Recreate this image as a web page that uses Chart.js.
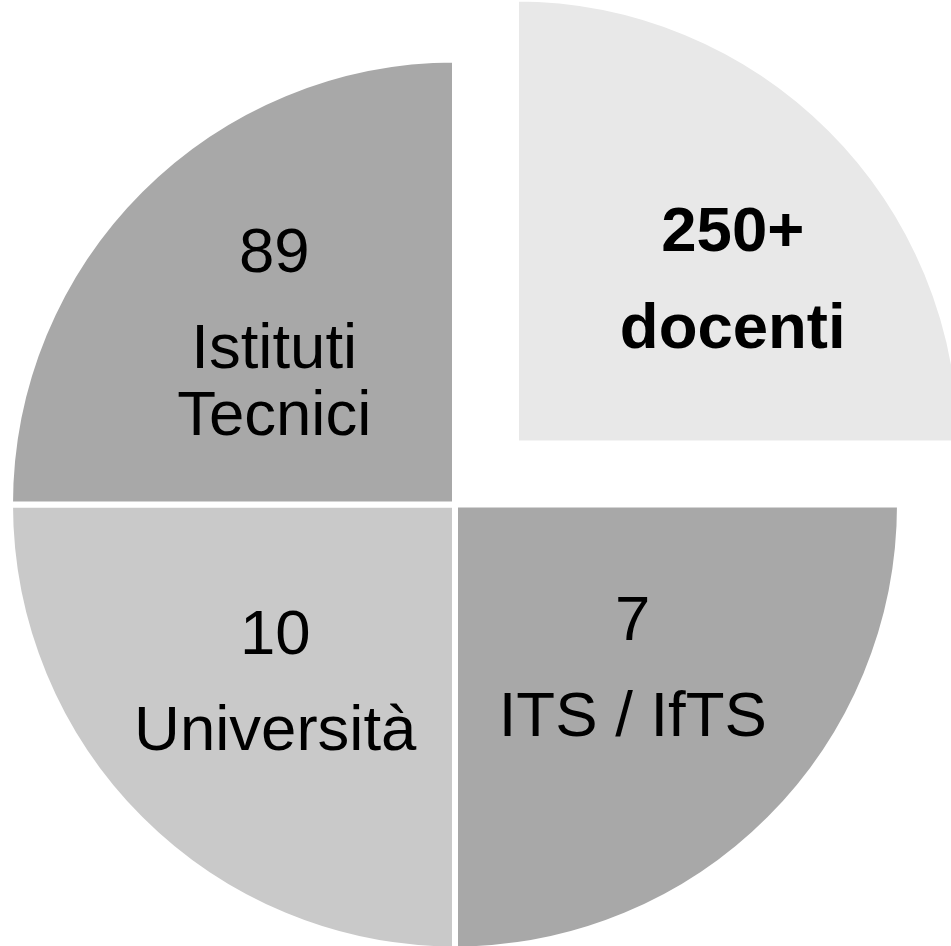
<!DOCTYPE html>
<html>
<head>
<meta charset="utf-8">
<script src="https://cdn.jsdelivr.net/npm/chart.js@4.4.1/dist/chart.umd.min.js"></script>
<style>html,body{margin:0;padding:0;background:#fff;overflow:hidden}canvas{display:block}</style>
</head>
<body>
<canvas id="c" width="951" height="946"></canvas>
<script>
// ---- data ----
const categories = [['docenti'], ['ITS / IfTS'], ['Università'], ['Istituti', 'Tecnici']];
const counts = ['250+', '7', '10', '89'];
const sliceShares = [25, 25, 25, 25];

// ---- styles ----
const sliceColors = ['#e8e8e8', '#a8a8a8', '#c9c9c9', '#a8a8a8'];
const sliceOffsets = [345, 0, 0, 0];

const sliceLabels = {
  id: 'sliceLabels',
  afterDatasetsDraw(chart, args, opts) {
    const ctx = chart.ctx;
    const meta = chart.getDatasetMeta(0);
    meta.data.forEach((arc, i) => {
      const p = arc.getProps(['x', 'y', 'startAngle', 'endAngle', 'outerRadius'], true);
      const mid = (p.startAngle + p.endAngle) / 2;
      const shift = (arc.options.offset || 0) / 4;
      const d = shift + p.outerRadius * opts.radiusFraction;
      const cx = p.x + Math.cos(mid) * d + opts.nudgeX[i];
      const cy = p.y + Math.sin(mid) * d + opts.nudgeY[i];
      const lines = [counts[i]].concat(categories[i]);
      const H = opts.capHeight + opts.numberGap + opts.lineGap * (lines.length - 2);
      let y = cy - H / 2 + opts.capHeight;
      ctx.save();
      ctx.font = (opts.bold[i] ? 'bold ' : '') + opts.fontSize + 'px "Liberation Sans", Arial, sans-serif';
      ctx.fillStyle = '#000000';
      ctx.textAlign = 'center';
      ctx.textBaseline = 'alphabetic';
      lines.forEach((t, k) => {
        if (k === 1) y += opts.numberGap;
        else if (k > 1) y += opts.lineGap;
        ctx.fillText(t, cx, y);
      });
      ctx.restore();
    });
  }
};

new Chart(document.getElementById('c'), {
  type: 'pie',
  data: {
    labels: categories.map(l => l.join(' ')),
    datasets: [{
      data: sliceShares,
      backgroundColor: sliceColors,
      borderColor: '#ffffff',
      borderWidth: 6,
      borderJoinStyle: 'miter',
      offset: sliceOffsets,
      radius: 445,
      clip: false
    }]
  },
  options: {
    responsive: false,
    devicePixelRatio: 1,
    animation: false,
    events: [],
    layout: { padding: { left: 0, right: 41, top: 63, bottom: 0 } },
    plugins: {
      legend: { display: false },
      tooltip: { enabled: false },
      sliceLabels: {
        radiusFraction: 0.5618,
        nudgeX: [40, 1, -3, -4],
        nudgeY: [10, -16, -2, 3],
        bold: [true, false, false, false],
        fontSize: 63.5,
        capHeight: 45.5,
        numberGap: 96.5,
        lineGap: 67
      }
    }
  },
  plugins: [sliceLabels]
});
</script>
</body>
</html>
